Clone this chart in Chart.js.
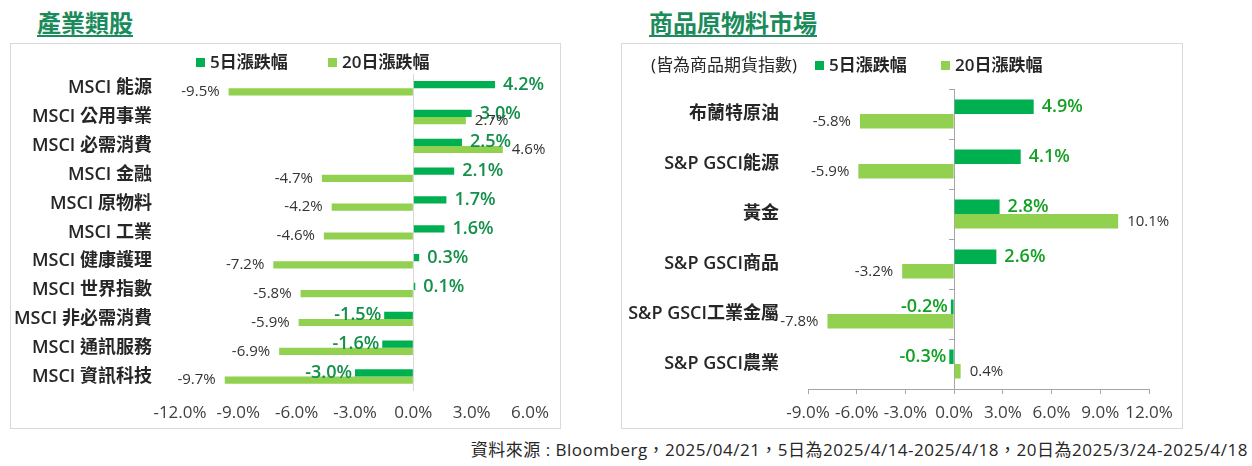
<!DOCTYPE html>
<html lang="zh-Hant">
<head>
<meta charset="utf-8">
<script src="https://cdn.jsdelivr.net/npm/chart.js@4.4.1/dist/chart.umd.min.js"></script>
<style>
  body { margin: 0; width: 1252px; height: 466px; background: #fff; position: relative; overflow: hidden;
    font-family: "Open Sans", "Noto Sans CJK TC", sans-serif; color: #262626; }
  .title { position: absolute; top: 9px; font-family: "Noto Sans CJK TC", sans-serif; font-weight: 700;
    font-size: 24px; line-height: 26px; color: #1b8b5b; border-bottom: 2px solid #1b8b5b; padding-bottom: 0; }
  .box { position: absolute; top: 43px; height: 386px; box-sizing: border-box; border: 1px solid #d9d9d9; }
  .chartwrap { position: absolute; top: 43px; height: 386px; }
  .legend { position: absolute; font-size: 17px; line-height: 20px; white-space: nowrap; }
  .legend .sq { position: absolute; width: 9px; height: 9px; top: 6px; }
  .legend .tx { position: absolute; top: 0; font-weight: 600; }
  .footer { position: absolute; right: 4px; top: 439px; font-size: 17px; letter-spacing: 0.5px; line-height: 22px; color: #262626; }
</style>
</head>
<body>
<div class="title" style="left:37px;">產業類股</div>
<div class="title" style="left:649px;">商品原物料市場</div>

<div class="box" style="left:10px; width:551px;"></div>
<div class="box" style="left:621px; width:562px;"></div>

<div class="chartwrap" style="left:10px; width:551px;"><canvas id="sectorChart"></canvas></div>
<div class="chartwrap" style="left:621px; width:562px;"><canvas id="commodityChart"></canvas></div>

<div class="legend" style="left:0; top:52px;">
  <span class="sq" style="left:196px; background:#00b050;"></span><span class="tx" style="left:210px;">5日漲跌幅</span>
  <span class="sq" style="left:328px; background:#92d050;"></span><span class="tx" style="left:342px;">20日漲跌幅</span>
</div>
<div class="legend" style="left:0; top:55px;">
  <span class="tx" style="left:651px; font-weight:400;">(皆為商品期貨指數)</span>
  <span class="sq" style="left:815px; background:#00b050;"></span><span class="tx" style="left:829px;">5日漲跌幅</span>
  <span class="sq" style="left:941px; background:#92d050;"></span><span class="tx" style="left:955px;">20日漲跌幅</span>
</div>

<div class="footer">資料來源 : Bloomberg，2025/04/21，5日為2025/4/14-2025/4/18，20日為2025/3/24-2025/4/18</div>

<script>
// 產業類股
const sectorLabels = ["MSCI 能源", "MSCI 公用事業", "MSCI 必需消費", "MSCI 金融", "MSCI 原物料", "MSCI 工業",
  "MSCI 健康護理", "MSCI 世界指數", "MSCI 非必需消費", "MSCI 通訊服務", "MSCI 資訊科技"];
const sector5d = [4.2, 3.0, 2.5, 2.1, 1.7, 1.6, 0.3, 0.1, -1.5, -1.6, -3.0];
const sector20d = [-9.5, 2.7, 4.6, -4.7, -4.2, -4.6, -7.2, -5.8, -5.9, -6.9, -9.7];

// 商品原物料市場
const commodityLabels = ["布蘭特原油", "S&P GSCI能源", "黃金", "S&P GSCI商品", "S&P GSCI工業金屬", "S&P GSCI農業"];
const commodity5d = [4.9, 4.1, 2.8, 2.6, -0.2, -0.3];
const commodity20d = [-5.8, -5.9, 10.1, -3.2, -7.8, 0.4];

const seriesNames = ["5日漲跌幅", "20日漲跌幅"];
const FONT = "'Open Sans', 'Noto Sans CJK TC', sans-serif";

// simple value labels at the end of each bar
const barLabels = {
  id: "barLabels",
  afterDatasetsDraw(chart, args, opts) {
    const ctx = chart.ctx;
    chart.data.datasets.forEach((ds, di) => {
      const meta = chart.getDatasetMeta(di);
      const st = opts.styles[di];
      ctx.save();
      ctx.font = st.font;
      ctx.fillStyle = st.color;
      ctx.textBaseline = "middle";
      meta.data.forEach((bar, i) => {
        const v = ds.data[i];
        const txt = v.toFixed(1) + "%";
        if (v >= 0) {
          ctx.textAlign = "left";
          ctx.fillText(txt, bar.x + st.posOffset, bar.y);
        } else {
          ctx.textAlign = "right";
          ctx.fillText(txt, bar.x - st.negOffset, bar.y);
        }
      });
      ctx.restore();
    });
  },
};

function pct(v) { return Number(v).toFixed(1) + "%"; }

new Chart(document.getElementById("sectorChart"), {
  type: "bar",
  data: {
    labels: sectorLabels,
    datasets: [
      { label: seriesNames[0], data: sector5d, backgroundColor: "#00b050" },
      { label: seriesNames[1], data: sector20d, backgroundColor: "#92d050" },
    ],
  },
  options: {
    indexAxis: "y",
    responsive: true,
    maintainAspectRatio: false,
    animation: false,
    datasets: { bar: { categoryPercentage: 0.5, barPercentage: 1 } },
    layout: { padding: { top: 25, right: 28, left: 0, bottom: 0 } },
    scales: {
      x: {
        min: -12, max: 6,
        ticks: { stepSize: 3, callback: pct, color: "#404040", font: { family: FONT, size: 17 }, padding: 12,
          autoSkip: false, maxRotation: 0 },
        grid: { drawTicks: false, color: (c) => (c.tick && c.tick.value === 0 ? "#d9d9d9" : "rgba(0,0,0,0)") },
        border: { display: false },
        afterFit: (s) => { s.height = 38; },
      },
      y: {
        ticks: { color: "#262626", font: { family: FONT, size: 18, weight: "600" }, padding: 20 },
        grid: { display: false },
        border: { display: false },
        afterFit: (s) => { s.width = 170; },
      },
    },
    plugins: {
      legend: { display: false },
      tooltip: { enabled: false },
      barLabels: {
        styles: [
          { font: "600 18px " + FONT, color: "#14904a", posOffset: 8, negOffset: 3 },
          { font: "15px " + FONT, color: "#333333", posOffset: 9, negOffset: 9 },
        ],
      },
    },
  },
  plugins: [barLabels],
});

new Chart(document.getElementById("commodityChart"), {
  type: "bar",
  data: {
    labels: commodityLabels,
    datasets: [
      { label: seriesNames[0], data: commodity5d, backgroundColor: "#00b050" },
      { label: seriesNames[1], data: commodity20d, backgroundColor: "#92d050" },
    ],
  },
  options: {
    indexAxis: "y",
    responsive: true,
    maintainAspectRatio: false,
    animation: false,
    datasets: { bar: { categoryPercentage: 0.58, barPercentage: 1 } },
    layout: { padding: { top: 46, right: 34, left: 0, bottom: 0 } },
    scales: {
      x: {
        min: -9, max: 12,
        ticks: { stepSize: 3, callback: pct, color: "#404040", font: { family: FONT, size: 17 }, padding: 9,
          autoSkip: false, maxRotation: 0 },
        grid: { drawOnChartArea: false, drawTicks: true, tickLength: 5, tickColor: "#a6a6a6" },
        border: { display: true, color: "#a6a6a6" },
        afterFit: (s) => { s.height = 40; },
      },
      y: {
        ticks: { color: "#262626", font: { family: FONT, size: 18, weight: "600" }, padding: 21 },
        grid: { display: false },
        border: { display: false },
        afterFit: (s) => { s.width = 187; },
      },
      // zero line with category tick marks
      yZero: {
        type: "category",
        position: { x: 0 },
        ticks: { display: false },
        grid: { drawOnChartArea: false, offset: true, tickLength: 5, tickColor: "#a6a6a6" },
        border: { display: true, color: "#a6a6a6" },
      },
    },
    plugins: {
      legend: { display: false },
      tooltip: { enabled: false },
      barLabels: {
        styles: [
          { font: "600 18px " + FONT, color: "#13a024", posOffset: 8, negOffset: 3 },
          { font: "15px " + FONT, color: "#333333", posOffset: 9, negOffset: 9 },
        ],
      },
    },
  },
  plugins: [barLabels],
});
</script>
</body>
</html>
